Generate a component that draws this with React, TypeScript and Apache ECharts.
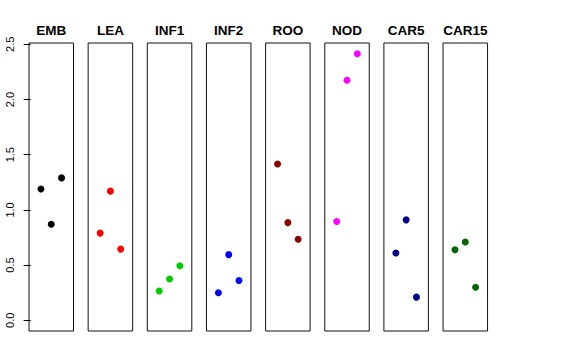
import React, { useEffect, useRef } from "react";
import * as echarts from "echarts";

const categories = ["EMB", "LEA", "INF1", "INF2", "ROO", "NOD", "CAR5", "CAR15"];
const colors = ["#000000", "#FF0000", "#00CD00", "#0000FF", "#8B0000", "#FF00FF", "#00008B", "#006400"];
const positions = [1, 2, 3];
const embValues = [1.19, 0.87, 1.29];
const leaValues = [0.79, 1.17, 0.645];
const inf1Values = [0.265, 0.375, 0.495];
const inf2Values = [0.25, 0.595, 0.36];
const rooValues = [1.415, 0.885, 0.735];
const nodValues = [0.895, 2.175, 2.415];
const car5Values = [0.61, 0.91, 0.21];
const car15Values = [0.64, 0.71, 0.3];
const yTicks = [0, 0.5, 1, 1.5, 2, 2.5];

const allValues = [embValues, leaValues, inf1Values, inf2Values, rooValues, nodValues, car5Values, car15Values];

const FONT = "'Liberation Sans', Arial, sans-serif";

export default function App() {
  const ref = useRef<HTMLDivElement>(null);
  useEffect(() => {
    document.body.style.margin = "0";
    if (!ref.current) return;
    const chart = echarts.init(ref.current, null, { renderer: "svg" });
    const left0 = 29;
    const pitch = 59.15;
    const w = 44.5;
    const top = 43;
    const h = 288;
    const yMax = 2.415 * 1.04;
    const yMin = -2.415 * 0.04;

    const grids: any[] = [];
    const xAxes: any[] = [];
    const yAxes: any[] = [];
    const series: any[] = [];
    const graphics: any[] = [];

    categories.forEach((cat, i) => {
      const l = left0 + i * pitch;
      grids.push({
        left: l,
        top,
        width: w,
        height: h,
        show: true,
        borderColor: "#111",
        borderWidth: 1,
        backgroundColor: "transparent",
      });
      xAxes.push({
        type: "value",
        gridIndex: i,
        min: -0.16,
        max: 4.16,
        show: false,
      });
      yAxes.push({
        type: "value",
        gridIndex: i,
        min: yMin,
        max: yMax,
        splitLine: { show: false },
        axisLine: { show: false },
        axisTick: {
          show: i === 0,
          length: 7,
          customValues: yTicks,
          lineStyle: { color: "#000", width: 1 },
        },
        axisLabel: {
          show: i === 0,
          customValues: yTicks,
          rotate: 90,
          margin: 14,
          fontFamily: FONT,
          fontSize: 11,
          color: "#000",
          formatter: (v: number) => v.toFixed(1),
        },
      });
      series.push({
        type: "scatter",
        xAxisIndex: i,
        yAxisIndex: i,
        symbol: "circle",
        symbolSize: 7,
        itemStyle: { color: colors[i], opacity: 1 },
        data: positions.map((p, k) => [p, allValues[i][k]]),
      });
      graphics.push({
        type: "text",
        x: l + w / 2,
        y: 30,
        style: {
          text: cat,
          textAlign: "center",
          textVerticalAlign: "middle",
          font: `bold 13.5px ${FONT}`,
          fill: "#000",
        },
      });
    });

    chart.setOption({
      animation: false,
      backgroundColor: "#fff",
      grid: grids,
      xAxis: xAxes,
      yAxis: yAxes,
      series,
      graphic: graphics,
    });
    return () => chart.dispose();
  }, []);
  return <div ref={ref} style={{ width: 576, height: 360 }} />;
}
